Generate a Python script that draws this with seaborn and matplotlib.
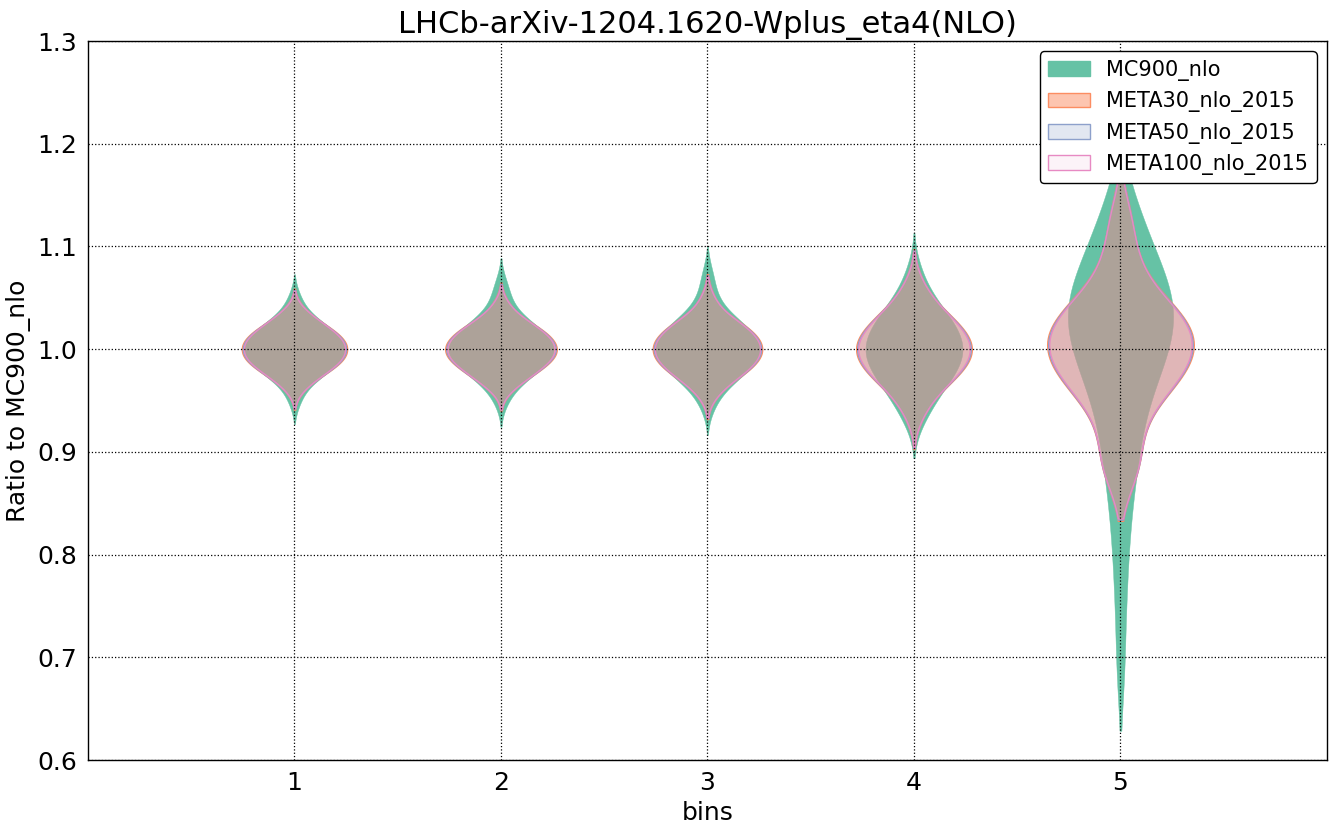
import pandas as pd
import matplotlib
matplotlib.use("Agg")
import matplotlib.pyplot as plt
import seaborn as sns
from matplotlib.colors import to_rgba
from matplotlib.patches import Patch

# bins and samples (ratio to MC900_nlo)
bins = [1, 2, 3, 4, 5]
series = ["MC900_nlo", "META30_nlo_2015", "META50_nlo_2015", "META100_nlo_2015"]

mc900_nlo = [
    [0.950, 0.964, 0.970, 0.974, 0.978, 0.981, 0.983, 0.986, 0.988, 0.990, 0.992, 0.994, 0.996, 0.998, 1.000,
     1.002, 1.004, 1.006, 1.008, 1.010, 1.012, 1.014, 1.017, 1.019, 1.022, 1.026, 1.030, 1.036, 1.050],
    [0.950, 0.963, 0.969, 0.973, 0.977, 0.980, 0.983, 0.985, 0.988, 0.990, 0.992, 0.994, 0.996, 0.998, 1.000,
     1.002, 1.004, 1.006, 1.008, 1.010, 1.013, 1.015, 1.017, 1.020, 1.023, 1.027, 1.031, 1.038, 1.050, 1.063],
    [0.945, 0.959, 0.966, 0.971, 0.975, 0.978, 0.981, 0.984, 0.986, 0.989, 0.991, 0.993, 0.996, 0.998, 1.000,
     1.002, 1.004, 1.007, 1.009, 1.011, 1.014, 1.016, 1.019, 1.022, 1.025, 1.029, 1.034, 1.041, 1.055, 1.072],
    [0.930, 0.941, 0.951, 0.958, 0.963, 0.968, 0.973, 0.977, 0.980, 0.984, 0.987, 0.991, 0.994, 0.997, 1.000,
     1.003, 1.006, 1.009, 1.013, 1.016, 1.020, 1.023, 1.027, 1.032, 1.037, 1.042, 1.049, 1.059, 1.077],
    [0.688, 0.748, 0.792, 0.826, 0.853, 0.875, 0.892, 0.906, 0.919, 0.931, 0.949, 0.958, 0.967, 0.974, 0.981, 0.987,
     0.994, 1.000, 1.005, 1.010, 1.015, 1.019, 1.024, 1.029, 1.033, 1.038, 1.042, 1.046, 1.051, 1.055, 1.060, 1.064,
     1.071, 1.077, 1.085, 1.091, 1.101, 1.113, 1.126, 1.137, 1.148],
]

meta30_nlo_2015 = [
    [0.961, 0.970, 0.974, 0.978, 0.981, 0.983, 0.986, 0.988, 0.990, 0.992, 0.994, 0.996, 0.998, 1.000,
     1.002, 1.004, 1.006, 1.008, 1.010, 1.012, 1.014, 1.017, 1.019, 1.022, 1.026, 1.030, 1.039],
    [0.961, 0.969, 0.973, 0.977, 0.980, 0.983, 0.985, 0.988, 0.990, 0.992, 0.994, 0.996, 0.998, 1.000,
     1.002, 1.004, 1.006, 1.008, 1.010, 1.013, 1.015, 1.017, 1.020, 1.023, 1.027, 1.031, 1.044],
    [0.955, 0.966, 0.971, 0.975, 0.978, 0.981, 0.984, 0.986, 0.989, 0.991, 0.993, 0.996, 0.998, 1.000,
     1.002, 1.004, 1.007, 1.009, 1.011, 1.014, 1.016, 1.019, 1.022, 1.025, 1.029, 1.034, 1.050],
    [0.934, 0.950, 0.958, 0.964, 0.969, 0.973, 0.977, 0.980, 0.983, 0.986, 0.989, 0.992, 0.995, 0.997, 1.000,
     1.003, 1.005, 1.008, 1.011, 1.014, 1.017, 1.020, 1.023, 1.027, 1.031, 1.036, 1.042, 1.050, 1.066],
    [0.871, 0.890, 0.906, 0.928, 0.943, 0.955, 0.963, 0.969, 0.975, 0.980, 0.985, 0.991, 0.996, 1.001, 1.006, 1.011,
     1.015, 1.020, 1.025, 1.030, 1.035, 1.042, 1.050, 1.061, 1.079, 1.103, 1.134],
]

meta50_nlo_2015 = [
    [0.962, 0.970, 0.974, 0.978, 0.981, 0.983, 0.986, 0.988, 0.990, 0.992, 0.994, 0.996, 0.998, 1.000,
     1.002, 1.004, 1.006, 1.008, 1.010, 1.012, 1.014, 1.017, 1.019, 1.022, 1.026, 1.030, 1.038],
    [0.962, 0.969, 0.973, 0.977, 0.980, 0.983, 0.985, 0.988, 0.990, 0.992, 0.994, 0.996, 0.998, 1.000,
     1.002, 1.004, 1.006, 1.008, 1.010, 1.013, 1.015, 1.017, 1.020, 1.023, 1.027, 1.031, 1.043],
    [0.956, 0.966, 0.971, 0.975, 0.978, 0.981, 0.984, 0.986, 0.989, 0.991, 0.993, 0.996, 0.998, 1.000,
     1.002, 1.004, 1.007, 1.009, 1.011, 1.014, 1.016, 1.019, 1.022, 1.025, 1.029, 1.034, 1.049],
    [0.935, 0.950, 0.958, 0.964, 0.969, 0.973, 0.977, 0.980, 0.983, 0.986, 0.989, 0.992, 0.995, 0.997, 1.000,
     1.003, 1.005, 1.008, 1.011, 1.014, 1.017, 1.020, 1.023, 1.027, 1.031, 1.036, 1.042, 1.050, 1.065],
    [0.872, 0.890, 0.906, 0.928, 0.943, 0.955, 0.963, 0.969, 0.975, 0.980, 0.985, 0.991, 0.996, 1.001, 1.006, 1.011,
     1.015, 1.020, 1.025, 1.030, 1.035, 1.042, 1.050, 1.061, 1.079, 1.103, 1.133],
]

meta100_nlo_2015 = [
    [0.962, 0.970, 0.974, 0.978, 0.981, 0.983, 0.986, 0.988, 0.990, 0.992, 0.994, 0.996, 0.998, 1.000,
     1.002, 1.004, 1.006, 1.008, 1.010, 1.012, 1.014, 1.017, 1.019, 1.022, 1.026, 1.030, 1.037],
    [0.962, 0.969, 0.973, 0.977, 0.980, 0.983, 0.985, 0.988, 0.990, 0.992, 0.994, 0.996, 0.998, 1.000,
     1.002, 1.004, 1.006, 1.008, 1.010, 1.013, 1.015, 1.017, 1.020, 1.023, 1.027, 1.031, 1.042],
    [0.956, 0.966, 0.971, 0.975, 0.978, 0.981, 0.984, 0.986, 0.989, 0.991, 0.993, 0.996, 0.998, 1.000,
     1.002, 1.004, 1.007, 1.009, 1.011, 1.014, 1.016, 1.019, 1.022, 1.025, 1.029, 1.034, 1.048],
    [0.936, 0.950, 0.958, 0.964, 0.969, 0.973, 0.977, 0.980, 0.983, 0.986, 0.989, 0.992, 0.995, 0.997, 1.000,
     1.003, 1.005, 1.008, 1.011, 1.014, 1.017, 1.020, 1.023, 1.027, 1.031, 1.036, 1.042, 1.050, 1.064],
    [0.873, 0.891, 0.906, 0.928, 0.943, 0.955, 0.963, 0.969, 0.975, 0.980, 0.985, 0.991, 0.996, 1.001, 1.006, 1.011,
     1.015, 1.020, 1.025, 1.030, 1.035, 1.042, 1.050, 1.061, 1.079, 1.102, 1.131],
]

# violin widths (x units), kde smoothing and tail cut per bin
violin_widths = [
    [0.49, 0.51, 0.51, 0.47, 0.51],
    [0.51, 0.54, 0.53, 0.56, 0.71],
    [0.50, 0.53, 0.52, 0.55, 0.70],
    [0.49, 0.52, 0.51, 0.54, 0.69],
]
bw_adjust = [1.0, 1.0, 1.0, 1.0, 0.8]
tail_cut = [2, 2, 2, 2, 1.5]
alphas = [1.0, 0.5, 0.25, 0.1]
colors = sns.color_palette("Set2", 4)

samples = [mc900_nlo, meta30_nlo_2015, meta50_nlo_2015, meta100_nlo_2015]
rows = []
for name, per_bin in zip(series, samples):
    for b, vals in zip(bins, per_bin):
        for v in vals:
            rows.append((name, b, v))
df = pd.DataFrame(rows, columns=["series", "bin", "ratio"])

sns.set_style("ticks")
plt.rcParams["font.family"] = ["DejaVu Sans"]
plt.rcParams["text.color"] = "black"
plt.rcParams["axes.labelcolor"] = "black"
plt.rcParams["xtick.color"] = "black"
plt.rcParams["ytick.color"] = "black"

fig = plt.figure(figsize=(13.37, 8.3), dpi=100, facecolor="white")
ax = fig.add_axes([0.0658, 0.0843, 0.9267, 0.8663])

for i, name in enumerate(series):
    for j, b in enumerate(bins):
        sub = df[(df["series"] == name) & (df["bin"] == b)]
        n0 = len(ax.collections)
        sns.violinplot(data=sub, x="bin", y="ratio", native_scale=True, cut=tail_cut[j], inner=None,
                       density_norm="width", width=violin_widths[i][j], bw_adjust=bw_adjust[j],
                       color=colors[i], saturation=1, linewidth=1, linecolor=colors[i], ax=ax)
        for coll in ax.collections[n0:]:
            coll.set_facecolor(to_rgba(colors[i], alphas[i]))
            coll.set_edgecolor(colors[i])
            coll.set_linewidth(0.3 if i == 0 else 1.0)

ax.set_xlim(0, 6)
ax.set_ylim(0.6, 1.3)
ax.set_xticks(bins)
ax.set_xticklabels([str(b) for b in bins])
ax.set_yticks([0.6, 0.7, 0.8, 0.9, 1.0, 1.1, 1.2, 1.3])
ax.set_yticklabels(["0.6", "0.7", "0.8", "0.9", "1.0", "1.1", "1.2", "1.3"])
ax.tick_params(labelsize=18, length=0, pad=8)
ax.grid(True, linestyle=":", color="black", linewidth=0.9)
ax.set_axisbelow(False)
for sp in ax.spines.values():
    sp.set_color("black")
    sp.set_linewidth(1)

ax.set_xlabel("bins", fontsize=18)
ax.set_ylabel("Ratio to MC900_nlo", fontsize=18)
ax.set_title("LHCb-arXiv-1204.1620-Wplus_eta4(NLO)", fontsize=22)

handles = [Patch(facecolor=to_rgba(c, a), edgecolor=c, label=n) for c, a, n in zip(colors, alphas, series)]
ax.legend(handles=handles, loc="upper right", fontsize=15, frameon=True, fancybox=True,
          edgecolor="black", framealpha=1)

fig.savefig("out.png", dpi=100, facecolor="white")
